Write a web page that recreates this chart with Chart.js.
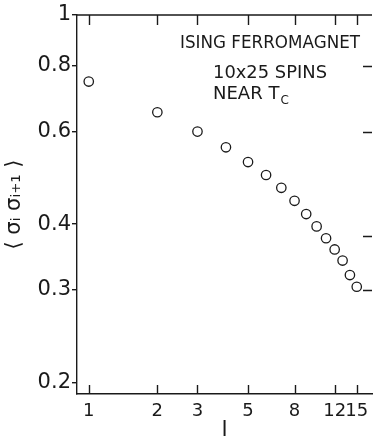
<!DOCTYPE html>
<html><head><meta charset="utf-8">
<style>html,body{margin:0;padding:0;background:#fff}#wrap{width:378px;height:443px}</style>
<script src="https://cdn.jsdelivr.net/npm/chart.js@4/dist/chart.umd.min.js"></script>
</head><body>
<div id="wrap"><canvas id="c"></canvas></div>
<script>
// ---- data ----
const spacings = [1, 2, 3, 4, 5, 6, 7, 8, 9, 10, 11, 12, 13, 14, 15];
const correlations = [0.747, 0.653, 0.600, 0.560, 0.525, 0.496, 0.469, 0.443, 0.418, 0.396, 0.376, 0.358, 0.341, 0.320, 0.304];
const xTickValues = [1, 2, 3, 5, 8, 12, 15];
const yTickValues = [0.2, 0.3, 0.4, 0.6, 0.8, 1];
const rightTickValues = [0.8, 0.6, 0.38, 0.3];
const noteLines = ["ISING FERROMAGNET", "10x25 SPINS", "NEAR T"];
const noteSub = "C";
const xTitle = "l";
const yTitle = "⟨ σᵢ σᵢ₊₁ ⟩";

const INK = '#1a1a1a';
const FONT = '"DejaVu Sans", sans-serif';

const points = spacings.map((s, i) => ({ x: s, y: correlations[i] }));

const framePlugin = {
  id: 'frame',
  afterDraw(chart) {
    const { ctx, chartArea: a, scales } = chart;
    const xs = scales.x, ys = scales.y;
    ctx.save();
    ctx.strokeStyle = INK;
    ctx.lineWidth = 1.4;
    ctx.beginPath();
    // top frame line
    ctx.moveTo(a.left, a.top); ctx.lineTo(a.right, a.top);
    // top and bottom inward ticks
    xTickValues.forEach(v => {
      const px = Math.round(xs.getPixelForValue(v)) + 0.5;
      ctx.moveTo(px, a.top); ctx.lineTo(px, a.top + 10);
      ctx.moveTo(px, a.bottom); ctx.lineTo(px, a.bottom - 9);
    });
    // right inward ticks
    rightTickValues.forEach(v => {
      const py = Math.round(ys.getPixelForValue(v)) + 0.5;
      ctx.moveTo(a.right - 9, py); ctx.lineTo(a.right, py);
    });
    ctx.stroke();

    // annotation text
    ctx.fillStyle = INK;
    ctx.textBaseline = 'alphabetic';
    ctx.textAlign = 'left';
    ctx.font = '18px ' + FONT;
    ctx.fillText(noteLines[0], 180, 48, 180);
    ctx.fillText(noteLines[1], 213, 78, 114);
    ctx.fillText(noteLines[2], 213, 99, 80);
    const w = Math.min(ctx.measureText(noteLines[2]).width, 80);
    ctx.font = '12px ' + FONT;
    ctx.fillText(noteSub, 213 + w + 1, 104);
    ctx.restore();
  }
};

new Chart(document.getElementById('c'), {
  type: 'scatter',
  data: {
    datasets: [{
      data: points,
      showLine: false,
      pointStyle: 'circle',
      pointRadius: 4.7,
      pointHoverRadius: 4.7,
      borderWidth: 1.3,
      borderColor: INK,
      backgroundColor: 'rgba(255,255,255,0)'
    }]
  },
  options: {
    responsive: true,
    maintainAspectRatio: false,
    animation: false,
    events: [],
    layout: { padding: { top: 15, right: 0, left: 0, bottom: 0 } },
    plugins: { legend: { display: false }, tooltip: { enabled: false } },
    scales: {
      x: {
        type: 'logarithmic',
        min: 0.888,
        max: 17.5,
        afterBuildTicks: s => { s.ticks = xTickValues.map(v => ({ value: v })); },
        afterFit: s => { s.height = 49; },
        ticks: {
          autoSkip: false, maxRotation: 0, minRotation: 0,
          color: INK, padding: 7,
          font: { family: FONT, size: 18 },
          callback: v => String(v)
        },
        grid: { drawOnChartArea: false, drawTicks: false },
        border: { display: true, color: INK, width: 1.4 },
        title: {
          display: true, text: xTitle, color: INK,
          font: { family: FONT, size: 22 },
          padding: { top: 0, bottom: 0 }
        }
      },
      y: {
        type: 'logarithmic',
        min: 0.19,
        max: 1,
        afterBuildTicks: s => { s.ticks = yTickValues.map(v => ({ value: v })); },
        afterFit: s => { s.width = 77; },
        ticks: {
          autoSkip: false, color: INK, padding: 1,
          font: { family: FONT, size: 21 },
          callback: v => (v === 1 ? '1' : String(v))
        },
        grid: { drawOnChartArea: false, drawTicks: true, tickLength: 5, color: INK, lineWidth: 1.4 },
        border: { display: true, color: INK, width: 1.4 },
        title: {
          display: true, text: yTitle, color: INK,
          font: { family: FONT, size: 21 },
          padding: { top: 2, bottom: 0 }
        }
      }
    }
  },
  plugins: [framePlugin]
});
</script>
</body></html>
